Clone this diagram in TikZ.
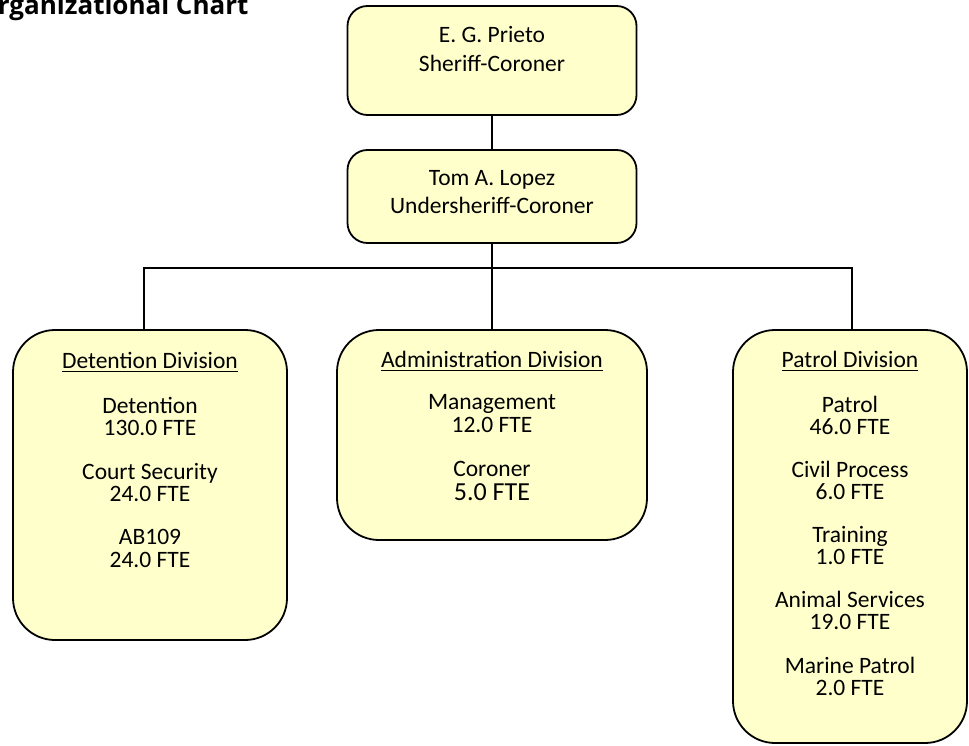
\documentclass[tikz,border=0pt]{standalone}
\usepackage{fontspec}
\setmainfont{Carlito}
\newfontfamily\headfont{Open Sans}
\definecolor{boxfill}{HTML}{FFFFCC}
\tikzset{
  orgbox/.style={draw=black, line width=1.8pt, fill=boxfill, rounded corners=20pt,
    inner sep=0pt, outer sep=0pt},
  divbox/.style={orgbox, rounded corners=42pt},
  txt/.style={anchor=base, inner sep=0pt, outer sep=0pt,
    font=\fontsize{23.5}{23.5}\selectfont},
  bigtxt/.style={txt, font=\fontsize{26}{26}\selectfont},
  link/.style={line width=1.8pt, draw=black},
  uline/.style={line width=1.3pt}
}
\begin{document}
\begin{tikzpicture}[x=1pt,y=-1pt]
\useasboundingbox (0,0) rectangle (969,746);

% heading (runs off the left edge)
\node[anchor=base west, inner sep=0pt] (heading) at (-23,15)
  {\headfont\bfseries\fontsize{26}{26}\selectfont Organizational Chart};

% command staff
\node[orgbox, minimum width=289pt, minimum height=109pt] (sheriff) at (492,60.5) {};
\node[orgbox, minimum width=289pt, minimum height=93pt] (under) at (492,196.5) {};

% divisions
\node[divbox, minimum width=274pt, minimum height=310pt] (det) at (150,485) {};
\node[divbox, minimum width=310pt, minimum height=210pt] (adm) at (492,435) {};
\node[divbox, minimum width=234pt, minimum height=413pt] (pat) at (850,536.5) {};

% connectors
\coordinate (bus) at (492,268);
\draw[link] (sheriff.south) -- (under.north);
\draw[link] (under.south) -- (adm.north);
\draw[link] ([xshift=-6pt]det.north) |- (bus) -| ([xshift=2pt]pat.north);

% command staff text
\foreach \t/\yy [count=\i] in {E. G. Prieto/43, Sheriff-Coroner/72}
  \node[txt] (sheriff-\i) at (492,\yy) {\t};
\foreach \t/\yy [count=\i] in {Tom A. Lopez/186, Undersheriff-Coroner/214}
  \node[txt] (under-\i) at (492,\yy) {\t};

% division headings
\node[txt] (det-h) at (150,368) {Detention Division};
\node[txt] (adm-h) at (492,367) {Administration Division};
\node[txt] (pat-h) at (850,367) {Patrol Division};
\foreach \n in {det-h,adm-h,pat-h}
  \draw[uline] ([yshift=-3.5pt]\n.base west) -- ([yshift=-3.5pt]\n.base east);

% division units
\foreach \t/\yy [count=\i] in {Detention/413, 130.0 FTE/435, Court Security/479,
    24.0 FTE/501, AB109/544, 24.0 FTE/567}
  \node[txt] (det-\i) at (150,\yy) {\t};
\foreach \t/\yy [count=\i] in {Management/409, 12.0 FTE/432, Coroner/476}
  \node[txt] (adm-\i) at (492,\yy) {\t};
\node[bigtxt] (adm-4) at (492,500) {5.0 FTE};
\foreach \t/\yy [count=\i] in {Patrol/412, 46.0 FTE/434, Civil Process/477,
    6.0 FTE/499, Training/542, 1.0 FTE/564, Animal Services/607,
    19.0 FTE/629, Marine Patrol/673, 2.0 FTE/695}
  \node[txt] (pat-\i) at (850,\yy) {\t};
\end{tikzpicture}
\end{document}
